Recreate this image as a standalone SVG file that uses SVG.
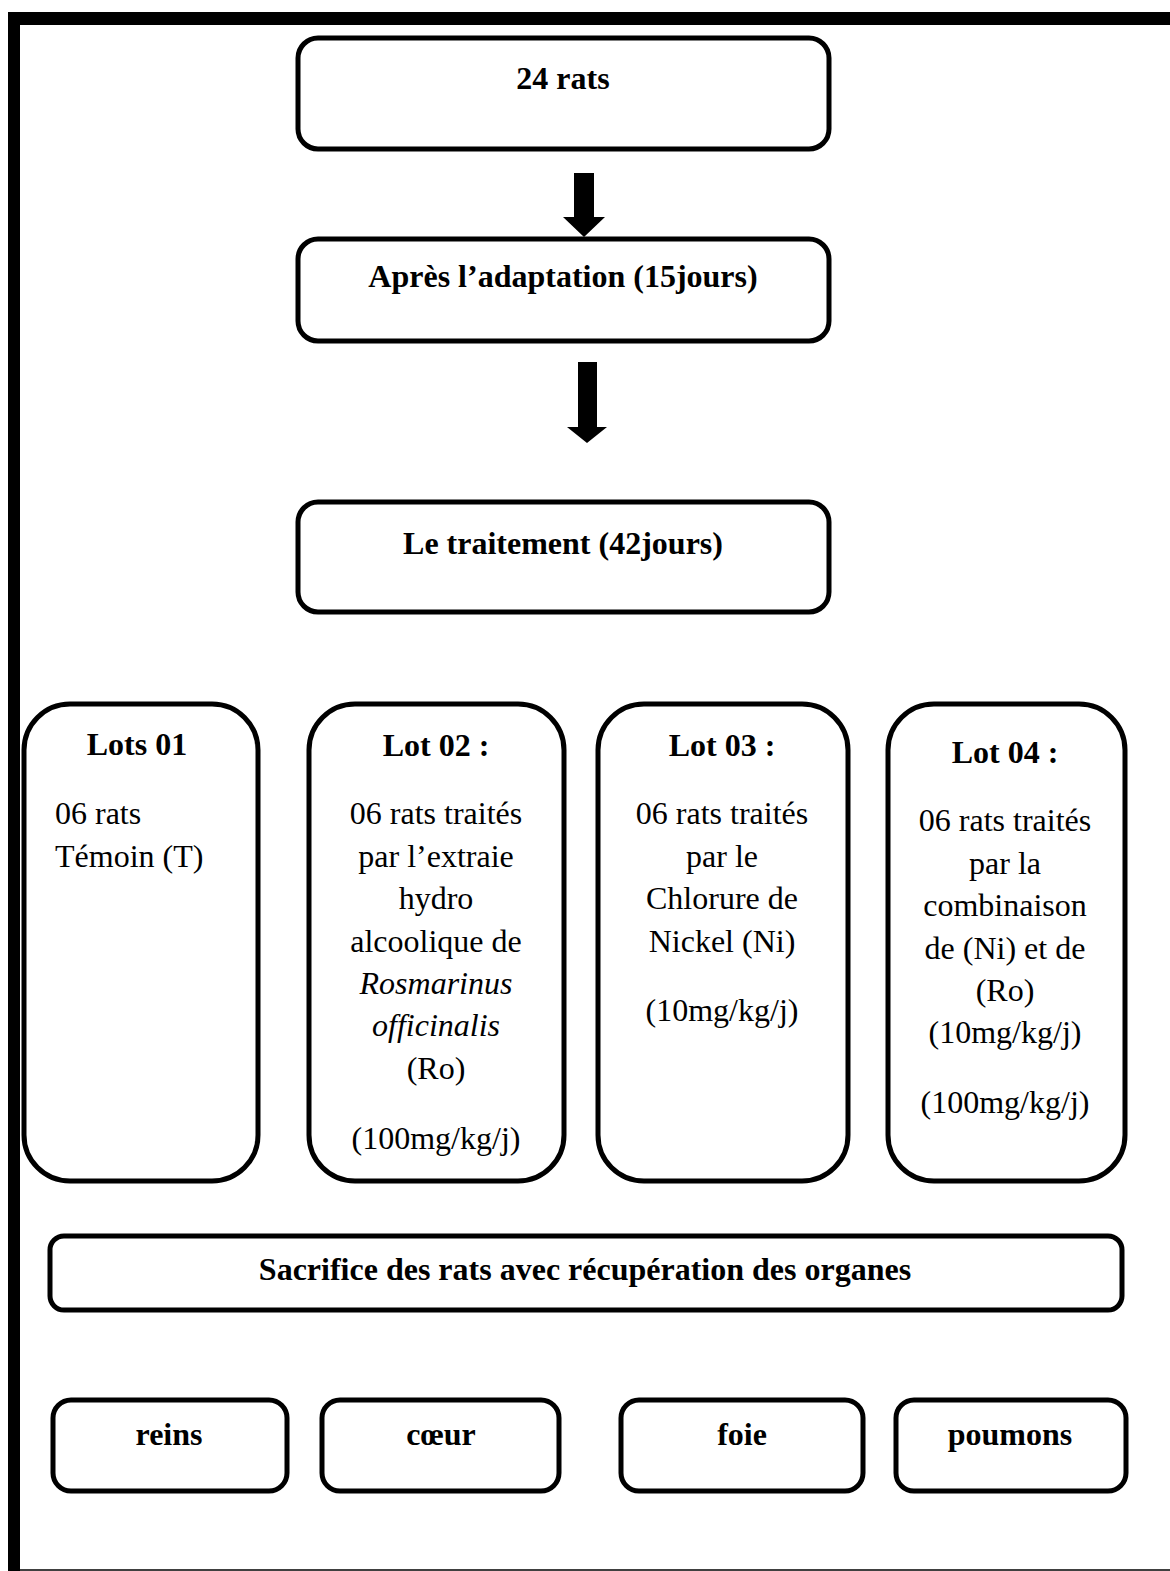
<svg xmlns="http://www.w3.org/2000/svg" width="1170" height="1571" viewBox="0 0 1170 1571">
<style>
.box{fill:#fff;stroke:#000;stroke-width:5}
.b{font-family:"Liberation Serif","Times New Roman",serif;font-weight:bold;font-size:32px;fill:#000;text-anchor:middle}
.r{font-family:"Liberation Serif","Times New Roman",serif;font-size:32px;fill:#000;text-anchor:middle}
.l{text-anchor:start}
.i{font-style:italic}
</style>
<rect x="0" y="0" width="1170" height="1571" fill="#fff"/>
<g id="frame">
<rect x="8" y="12" width="1162" height="13" fill="#000"/>
<rect x="8" y="12" width="12" height="1559" fill="#000"/>
<line x1="8" y1="1570" x2="1170" y2="1570" stroke="#000" stroke-width="1.5"/>
</g>
<g id="connectors">
<polygon points="574,173 594,173 594,217 605,217 584,237 563,217 574,217" fill="#000"/>
<polygon points="578,362 597,362 597,427 607,427 587,443 567,427 578,427" fill="#000"/>
</g>
<g id="n-rats">
<rect class="box" x="298" y="38" width="531" height="111" rx="20"/>
<text class="b" x="563" y="89">24 rats</text>
</g>
<g id="n-adaptation">
<rect class="box" x="298" y="239" width="531" height="102" rx="20"/>
<text class="b" x="563" y="287">Après l’adaptation (15jours)</text>
</g>
<g id="n-traitement">
<rect class="box" x="298" y="502" width="531" height="110" rx="20"/>
<text class="b" x="563" y="554">Le traitement (42jours)</text>
</g>
<g id="n-lot1">
<rect class="box" x="24" y="704" width="234" height="477" rx="46"/>
<text class="b" x="137" y="755">Lots 01</text>
<text class="r l" x="55" y="824">06 rats</text>
<text class="r l" x="55" y="867">Témoin (T)</text>
</g>
<g id="n-lot2">
<rect class="box" x="309" y="704" width="255" height="477" rx="46"/>
<text class="b" x="436" y="756">Lot 02 :</text>
<text class="r" x="436" y="824">06 rats traités</text>
<text class="r" x="436" y="867">par l’extraie</text>
<text class="r" x="436" y="909">hydro</text>
<text class="r" x="436" y="952">alcoolique de</text>
<text class="r i" x="436" y="994">Rosmarinus</text>
<text class="r i" x="436" y="1036">officinalis</text>
<text class="r" x="436" y="1079">(Ro)</text>
<text class="r" x="436" y="1149">(100mg/kg/j)</text>
</g>
<g id="n-lot3">
<rect class="box" x="598" y="704" width="250" height="477" rx="46"/>
<text class="b" x="722" y="756">Lot 03 :</text>
<text class="r" x="722" y="824">06 rats traités</text>
<text class="r" x="722" y="867">par le</text>
<text class="r" x="722" y="909">Chlorure de</text>
<text class="r" x="722" y="952">Nickel (Ni)</text>
<text class="r" x="722" y="1021">(10mg/kg/j)</text>
</g>
<g id="n-lot4">
<rect class="box" x="888" y="704" width="237" height="477" rx="46"/>
<text class="b" x="1005" y="763">Lot 04 :</text>
<text class="r" x="1005" y="831">06 rats traités</text>
<text class="r" x="1005" y="874">par la</text>
<text class="r" x="1005" y="916">combinaison</text>
<text class="r" x="1005" y="959">de (Ni) et de</text>
<text class="r" x="1005" y="1001">(Ro)</text>
<text class="r" x="1005" y="1043">(10mg/kg/j)</text>
<text class="r" x="1005" y="1113">(100mg/kg/j)</text>
</g>
<g id="n-sacrifice">
<rect class="box" x="50" y="1236" width="1072" height="74" rx="14"/>
<text class="b" x="585" y="1280">Sacrifice des rats avec récupération des organes</text>
</g>
<g id="n-reins">
<rect class="box" x="53" y="1400" width="234" height="91" rx="18"/>
<text class="b" x="169" y="1445">reins</text>
</g>
<g id="n-coeur">
<rect class="box" x="322" y="1400" width="237" height="91" rx="18"/>
<text class="b" x="441" y="1445">cœur</text>
</g>
<g id="n-foie">
<rect class="box" x="621" y="1400" width="242" height="91" rx="18"/>
<text class="b" x="742" y="1445">foie</text>
</g>
<g id="n-poumons">
<rect class="box" x="896" y="1400" width="230" height="91" rx="18"/>
<text class="b" x="1010" y="1445">poumons</text>
</g>
</svg>
